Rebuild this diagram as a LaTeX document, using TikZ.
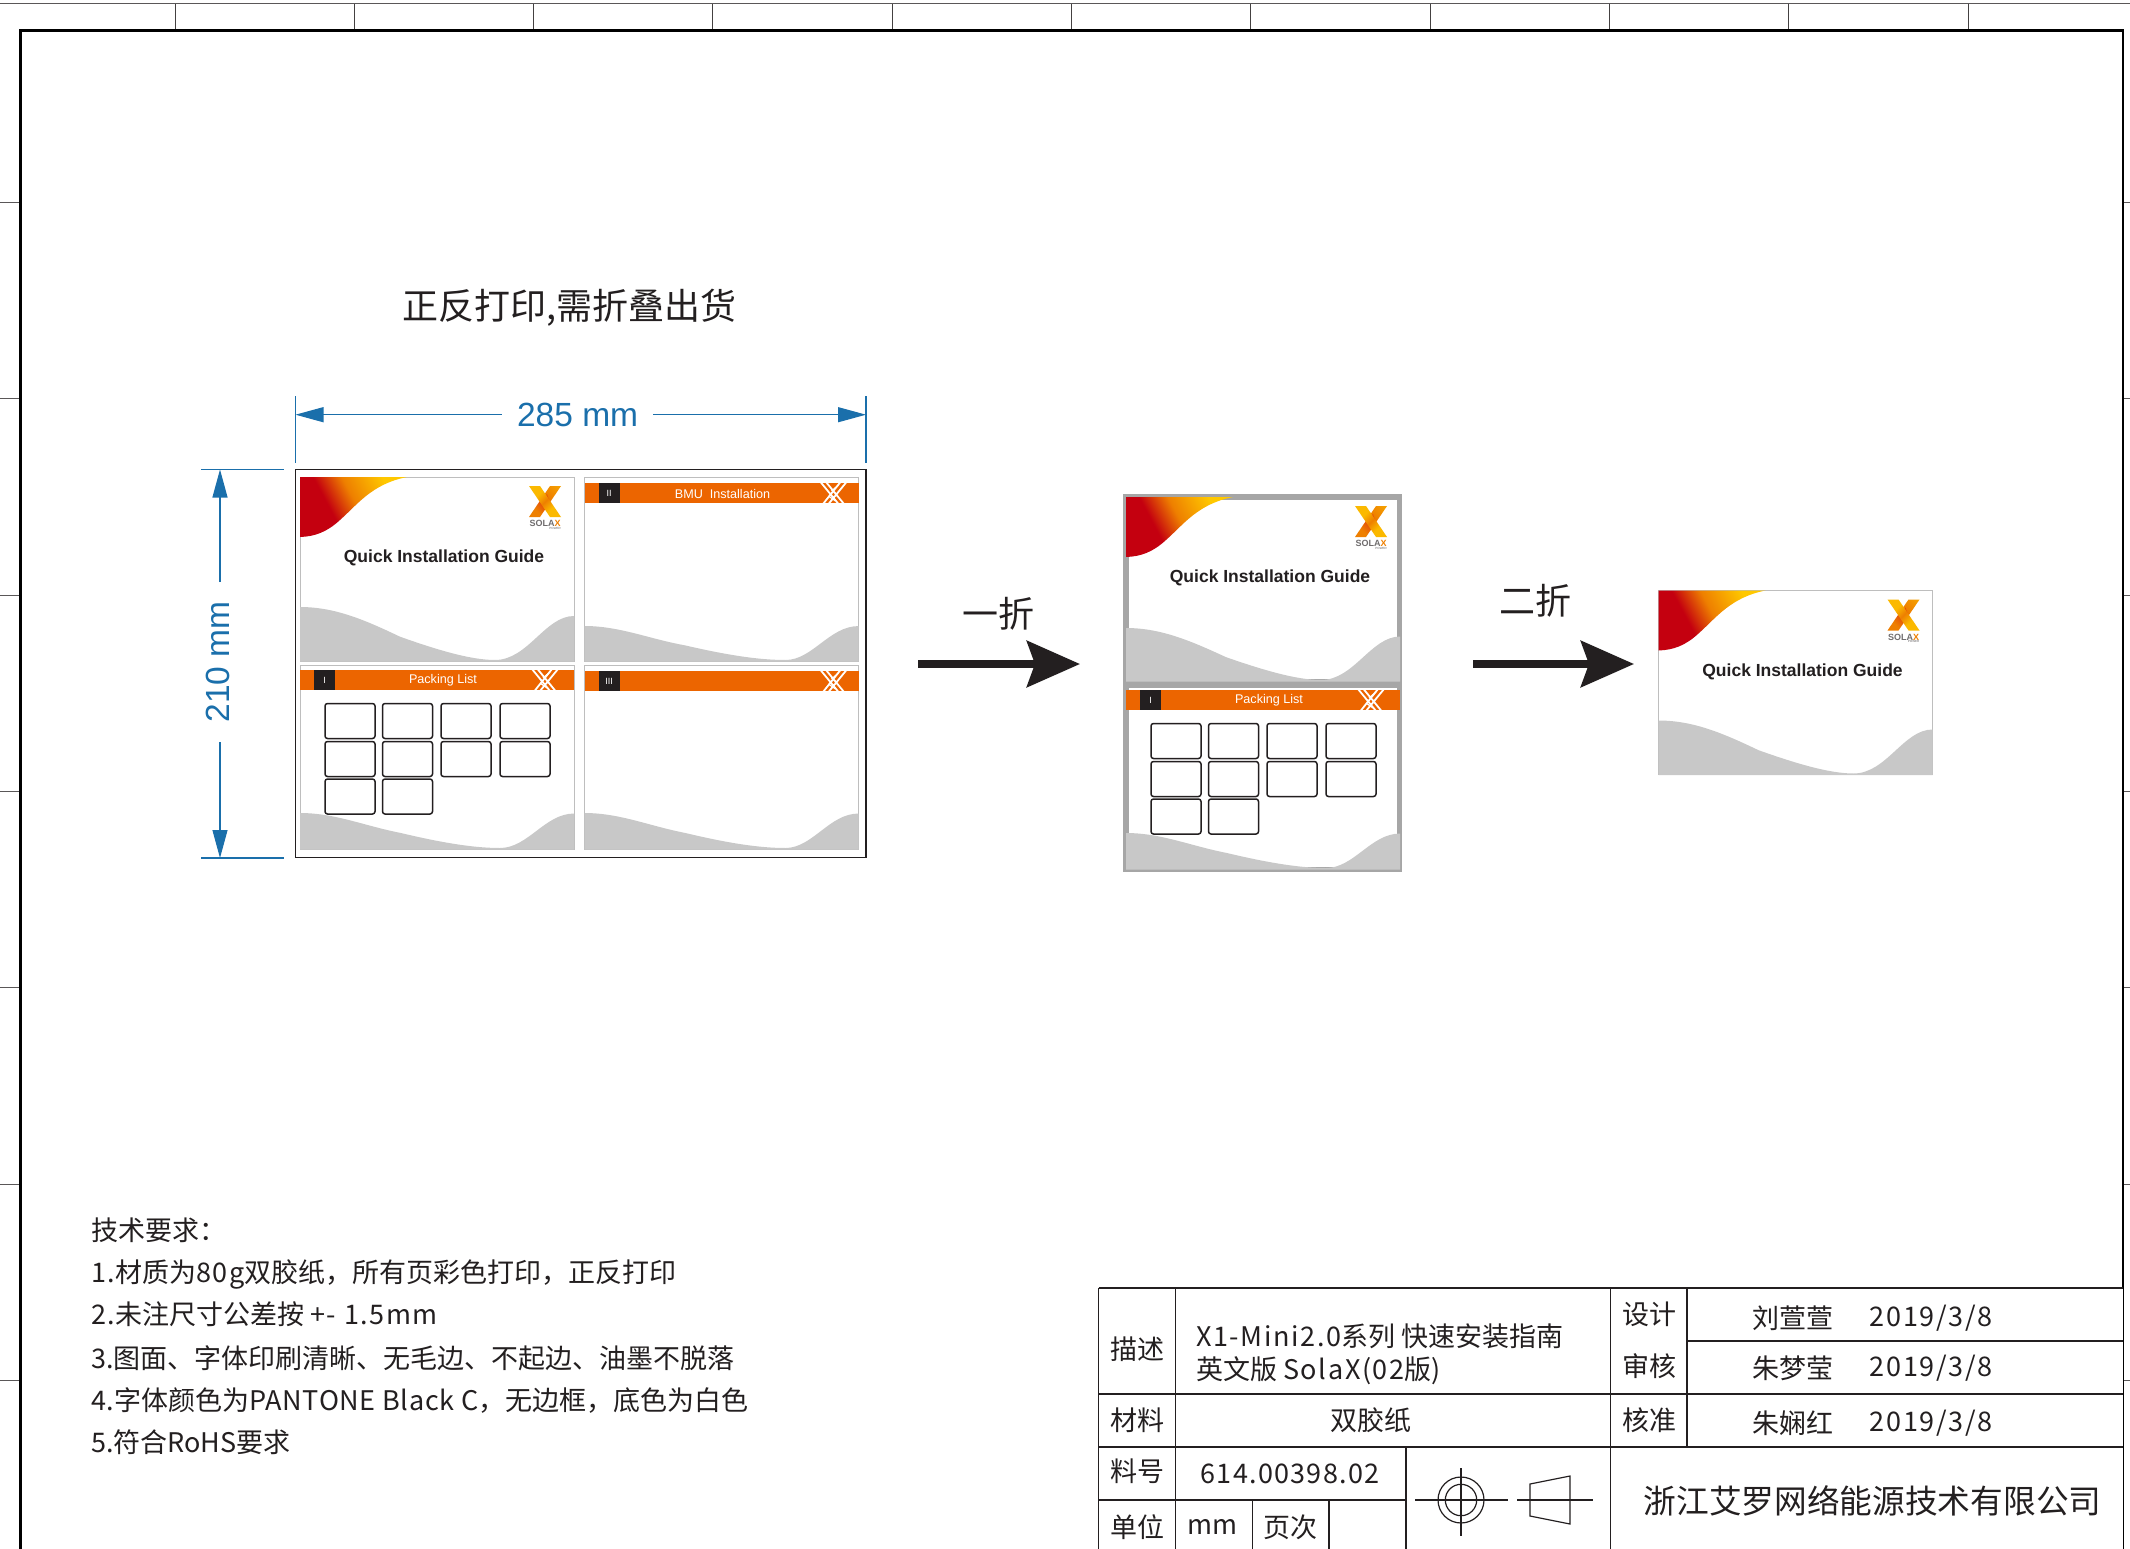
\documentclass[tikz,border=0pt]{standalone}
\usepackage{fontspec}
\setmainfont{Liberation Sans}
\newfontfamily\cjk{Noto Sans CJK SC}
\newfontfamily\cjkwide[LetterSpace=6]{Noto Sans CJK SC}
\newfontfamily\cjkmid[LetterSpace=4.6]{Noto Sans CJK SC}
\newfontfamily\cjknarrow[LetterSpace=2.5]{Noto Sans CJK SC}
\newcommand{\lwa}[1]{{\cjkwide #1}}
\newcommand{\lwb}[1]{{\cjknarrow #1}}
\usetikzlibrary{arrows.meta}
\definecolor{ink}{HTML}{231F20}
\definecolor{dimblue}{HTML}{1A6FAB}
\definecolor{hill}{HTML}{C8C8C8}
\definecolor{edge}{HTML}{BEBEBE}
\definecolor{band}{HTML}{A6A6A6}
\definecolor{barorange}{HTML}{EC6500}
\definecolor{sred}{HTML}{C4000F}
\definecolor{sorange}{HTML}{EE7F00}
\definecolor{syellow}{HTML}{FFC800}
\definecolor{xgold}{HTML}{FBB900}
\definecolor{xdeep}{HTML}{E4500A}
\pgfdeclarehorizontalshading{swoosh}{100bp}{color(0bp)=(sred);color(38bp)=(sred);color(52bp)=(sorange);color(72bp)=(syellow);color(100bp)=(syellow)}
\pgfdeclarehorizontalshading{xone}{100bp}{color(0bp)=(xgold);color(35bp)=(xgold);color(50bp)=(sorange);color(65bp)=(xgold);color(100bp)=(xgold)}
\pgfdeclarehorizontalshading{xtwo}{100bp}{color(0bp)=(xgold);color(40bp)=(sorange);color(55bp)=(xdeep);color(70bp)=(sorange);color(100bp)=(sorange)}
\newcommand{\fs}[2]{\fontsize{#1pt}{#2pt}\selectfont}
\newcommand{\covermark}{%
  \shade[shading=swoosh,shading angle=28] (0,0) -- (107,0)
      .. controls (72,7) and (58,27) .. (40,43) .. controls (27,55) and (15,59.5) .. (0,60) -- cycle;
  \shade[shading=xtwo,shading angle=-135] (261,9) -- (250,9) -- (229,40) -- (240,40) -- cycle;
  \fill[xdeep] (243,21) -- (247,17) -- (252,33) -- cycle;
  \shade[shading=xone,shading angle=-45] (229,9) -- (240,9) -- (261,40) -- (250,40) -- cycle;
  \node[inner sep=0,font=\bfseries\fs{9}{9},text=ink!65] at (245,46.5) {SOLA\textcolor{sorange}{X}};
  \node[inner sep=0,anchor=east,font=\fs{3}{3},text=ink!70] at (261,51) {POWER};
  \node[inner sep=0,text=ink,font=\bfseries\fs{17.5}{20}] at (144,81) {Quick Installation Guide};
}
\tikzset{
  x=1pt,y=-1pt,
  cn/.style={inner sep=0,font=\cjk\fs{27}{32},text=ink},
  rule/.style={line width=1.5pt,draw=ink},
  dimline/.style={line width=1.1pt,draw=dimblue},
  dimarrow/.style={dimline,-{Triangle[length=28pt,width=15pt]}},
  dimtext/.style={inner sep=0,text=dimblue,font=\fs{33.5}{36}},
  flow/.style={line width=8pt,draw=ink,-{Stealth[length=53pt,width=46pt,inset=8pt]}},
  slot/.style={draw=ink,line width=1.5pt,rounded corners=2.5pt,fill=white},
  pics/hills/.style args={#1/#2}{code={
    \fill[hill] (0,#1) .. controls (35,#1) and (65,#1+13) .. (100,{#1+(184-#1)*0.55})
      .. controls (135,{#1+(184-#1)*0.78}) and (170,183) .. (#2,183)
      .. controls (228,183) and (245,{139+(#1-130)*0.53}) .. (274,{139+(#1-130)*0.53}) -- (274,184.5) -- (0,184.5) -- cycle;
  }},
  pics/xmark/.style={code={
    \begin{scope}
      \clip (-2,0) rectangle (30,20);
      \draw[white,line width=1.8pt] (1,-1) -- (19,21) (6.5,-1) -- (24.5,21) (27,-1) -- (9,21) (21,-1) -- (3.5,21);
      \draw[white,line width=1.2pt] (12,8) -- (19,2) (9,13) -- (16,18);
    \end{scope}
  }},
  pics/headbar/.style args={#1/#2/#3/#4}{code={
    \fill[barorange] (0,#1) rectangle (274,#1+20);
    \fill[ink] (14,#1) rectangle (35,#1+20);
    \node[inner sep=0,text=white,font=\fs{9}{10}] at (24.5,#1+10) {#2};
    \node[inner sep=0,text=white,font=\fs{12.6}{13}] at (#3,#1+10.5) {#4};
  }},
  pics/cover/.style={code={
    \draw[edge,line width=1pt,fill=white] (0,0) rectangle (274,184);
    \pic at (0,0) {hills=130/195};
    \covermark
  }},
}
\begin{document}
\begin{tikzpicture}
\useasboundingbox (0,0) rectangle (2130,1549);
\fill[white] (0,0) rectangle (2130,1549);
% drawing sheet border
\draw[line width=1pt,draw=ink!75] (0,4) -- (2130,4);
\foreach \k in {0,...,10} \draw[line width=1pt,draw=ink!85] ({175+179.3*\k},4) -- ({175+179.3*\k},30);
\foreach \k in {0,...,6} {
  \draw[line width=1pt,draw=ink!75] (0,{202.5+196.3*\k}) -- (20,{202.5+196.3*\k});
  \draw[line width=1pt,draw=ink!75] (2123,{202.5+196.3*\k}) -- (2130,{202.5+196.3*\k});
}
\draw[line width=2.6pt,draw=black] (20.7,1560) -- (20.7,30.3) -- (2123,30.3) -- (2123,1560);
% heading
\node[cn,font=\cjk\fs{36}{40}] (heading) at (569,307.5) {正反打印,需折叠出货};
% sheet one
\draw[ink,line width=1.8pt] (295.5,469.5) rectangle (866,857.5);
\begin{scope}[shift={(300,477)}]
  \pic {cover};
\end{scope}
\begin{scope}[shift={(584.5,477)}]
  \draw[edge,line width=1pt,fill=white] (0,0) rectangle (274,184.5);
  \pic at (0,0) {hills=149/201};
  \pic at (0,0) {headbar=6/II/138/BMU\ \ Installation};
  \begin{scope}[shift={(235,6)}]\pic {xmark};\end{scope}
\end{scope}
\begin{scope}[shift={(300,665)}]
  \draw[edge,line width=1pt,fill=white] (0,0) rectangle (274,184);
  \pic at (0,0) {hills=148/200};
  \pic at (0,0) {headbar=5/I/143/Packing List};
  \begin{scope}[shift={(231,5)}]\pic {xmark};\end{scope}
  \foreach \xa/\xb in {25/75,82.5/132.5,141/191,200/250} {
    \draw[slot] (\xa,38.5) rectangle (\xb,73.5);
    \draw[slot] (\xa,76.5) rectangle (\xb,111.5);
  }
  \foreach \xa/\xb in {25/75,82.5/132.5} \draw[slot] (\xa,114) rectangle (\xb,149);
\end{scope}
\begin{scope}[shift={(584.5,665)}]
  \draw[edge,line width=1pt,fill=white] (0,0) rectangle (274,184);
  \pic at (0,0) {hills=148/201};
  \pic at (0,0) {headbar=6/III/138/{}};
  \begin{scope}[shift={(235,6)}]\pic {xmark};\end{scope}
\end{scope}
% dimensions
\coordinate (wl) at (295.5,414.7);
\coordinate (wr) at (866,414.7);
\node[dimtext] (w285) at (577.6,414.7) {285 mm};
\draw[dimline] (295.5,396) -- (295.5,463) (866,396) -- (866,463);
\draw[dimarrow] ([xshift=-15pt]w285.west) -- (wl);
\draw[dimarrow] ([xshift=15pt]w285.east) -- (wr);
\coordinate (ht) at (220,469.5);
\coordinate (hb) at (220,858);
\node[dimtext,rotate=90] (h210) at (218,662) {210 mm};
\draw[dimline] (201,469.5) -- (284,469.5) (201,858) -- (284,858);
\draw[dimarrow] (220,582) -- (ht);
\draw[dimarrow] (220,742) -- (hb);
% first fold
\node[cn,font=\cjk\fs{36}{40}] (foldone) at (998,614) {一折};
\coordinate (a1s) at (918,664);
\coordinate (a1e) at (1080,664);
\draw[flow] (a1s) -- (a1e);
% sheet two
\fill[band] (1123,494) rectangle (1401.7,871.7);
\fill[white] (1128.5,500) rectangle (1397,679);
\fill[white] (1128.5,688) rectangle (1397,866.7);
\begin{scope}[shift={(1126,497)}]
  \pic at (0,0) {hills=131/195};
  \covermark
\end{scope}
\begin{scope}[shift={(1126,685)}]
  \pic at (0,0) {hills=148/200};
  \pic at (0,0) {headbar=5/I/143/Packing List};
  \begin{scope}[shift={(231,5)}]\pic {xmark};\end{scope}
  \foreach \xa/\xb in {25/75,82.5/132.5,141/191,200/250} {
    \draw[slot] (\xa,38.5) rectangle (\xb,73.5);
    \draw[slot] (\xa,76.5) rectangle (\xb,111.5);
  }
  \foreach \xa/\xb in {25/75,82.5/132.5} \draw[slot] (\xa,114) rectangle (\xb,149);
\end{scope}
% second fold
\node[cn,font=\cjk\fs{36}{40}] (foldtwo) at (1535,601) {二折};
\coordinate (a2s) at (1473,664);
\coordinate (a2e) at (1634,664);
\draw[flow] (a2s) -- (a2e);
% folded result
\begin{scope}[shift={(1658.5,590.5)}]
  \pic {cover};
\end{scope}
% requirements
\node[cn,anchor=base west] (r0) at (91,1240) {技术要求：};
\node[cn,anchor=base west] (r1) at (91,1282.5) {\lwa{1.}材质为\lwa{80g}双胶纸，所有页彩色打印，正反打印};
\node[cn,anchor=base west] (r2) at (91,1324.5) {\lwa{2.}未注尺寸公差按 \lwa{+- 1.5mm}};
\node[cn,anchor=base west] (r3) at (91,1368) {3.图面、字体印刷清晰、无毛边、不起边、油墨不脱落};
\node[cn,anchor=base west] (r4) at (91,1410) {\lwb{4.}字体颜色为\lwb{PANTONE Black C}，无边框，底色为白色};
\node[cn,anchor=base west] (r5) at (91,1452) {5.符合RoHS要求};
% title block
\fill[white] (1098.5,1288) rectangle (2123,1549);
\draw[line width=2.6pt,draw=ink] (1098.5,1288) -- (2123,1288);
\draw[rule] (1098.5,1288) -- (1098.5,1560);
\draw[rule] (1175.5,1288) -- (1175.5,1560);
\draw[rule] (1610.5,1288) -- (1610.5,1560);
\draw[rule] (1687,1288) -- (1687,1447);
\draw[rule] (1687,1341) -- (2123,1341);
\draw[rule] (1098.5,1394) -- (2123,1394);
\draw[rule] (1098.5,1447) -- (2123,1447);
\draw[rule] (1098.5,1500) -- (1406,1500);
\draw[rule] (1252.5,1500) -- (1252.5,1560);
\draw[rule] (1329,1500) -- (1329,1560);
\draw[rule] (1406,1447) -- (1406,1560);
\node[cn] (t1) at (1137,1349.5) {描述};
\node[cn] (t2) at (1137,1420.5) {材料};
\node[cn] (t3) at (1137,1471) {料号};
\node[cn] (t4) at (1137,1527) {单位};
\node[cn] (t5) at (1649,1314.5) {设计};
\node[cn] (t6) at (1649,1366.5) {审核};
\node[cn] (t7) at (1649,1420) {核准};
\node[cn,anchor=west] (d1) at (1196,1336) {\lwa{X1-Mini2.0}系列 快速安装指南};
\node[cn,anchor=west] (d2) at (1196,1371) {英文版 \lwa{SolaX(02}版\lwa{)}};
\node[cn] (m1) at (1371,1420.5) {双胶纸};
\node[cn] (n1) at (1793,1318) {刘萱萱};
\node[cn] (n2) at (1793,1368) {朱梦莹};
\node[cn] (n3) at (1793,1423) {朱娴红};
\node[cn,font=\cjkwide\fs{27}{32}] (da1) at (1931,1318) {2019/3/8};
\node[cn,font=\cjkwide\fs{27}{32}] (da2) at (1931,1368) {2019/3/8};
\node[cn,font=\cjkwide\fs{27}{32}] (da3) at (1931,1423) {2019/3/8};
\node[cn,font=\cjkmid\fs{27}{32}] (pn) at (1290,1474) {614.00398.02};
\node[cn] (un) at (1212,1527) {mm};
\node[cn] (pg) at (1290,1527) {页次};
\node[cn,font=\cjk\fs{32.7}{36}] (co) at (1872.5,1501) {浙江艾罗网络能源技术有限公司};
% projection symbol
\draw[line width=1.2pt,draw=ink] (1461,1500) circle (23) (1461,1500) circle (15.7);
\draw[line width=1.2pt,draw=ink] (1415,1500) -- (1508,1500) (1461,1468) -- (1461,1536);
\draw[line width=1.2pt,draw=ink] (1530,1484) -- (1570,1476) -- (1570,1524) -- (1530,1516) -- cycle;
\draw[line width=1.2pt,draw=ink] (1517,1500) -- (1593,1500);
\end{tikzpicture}
\end{document}
